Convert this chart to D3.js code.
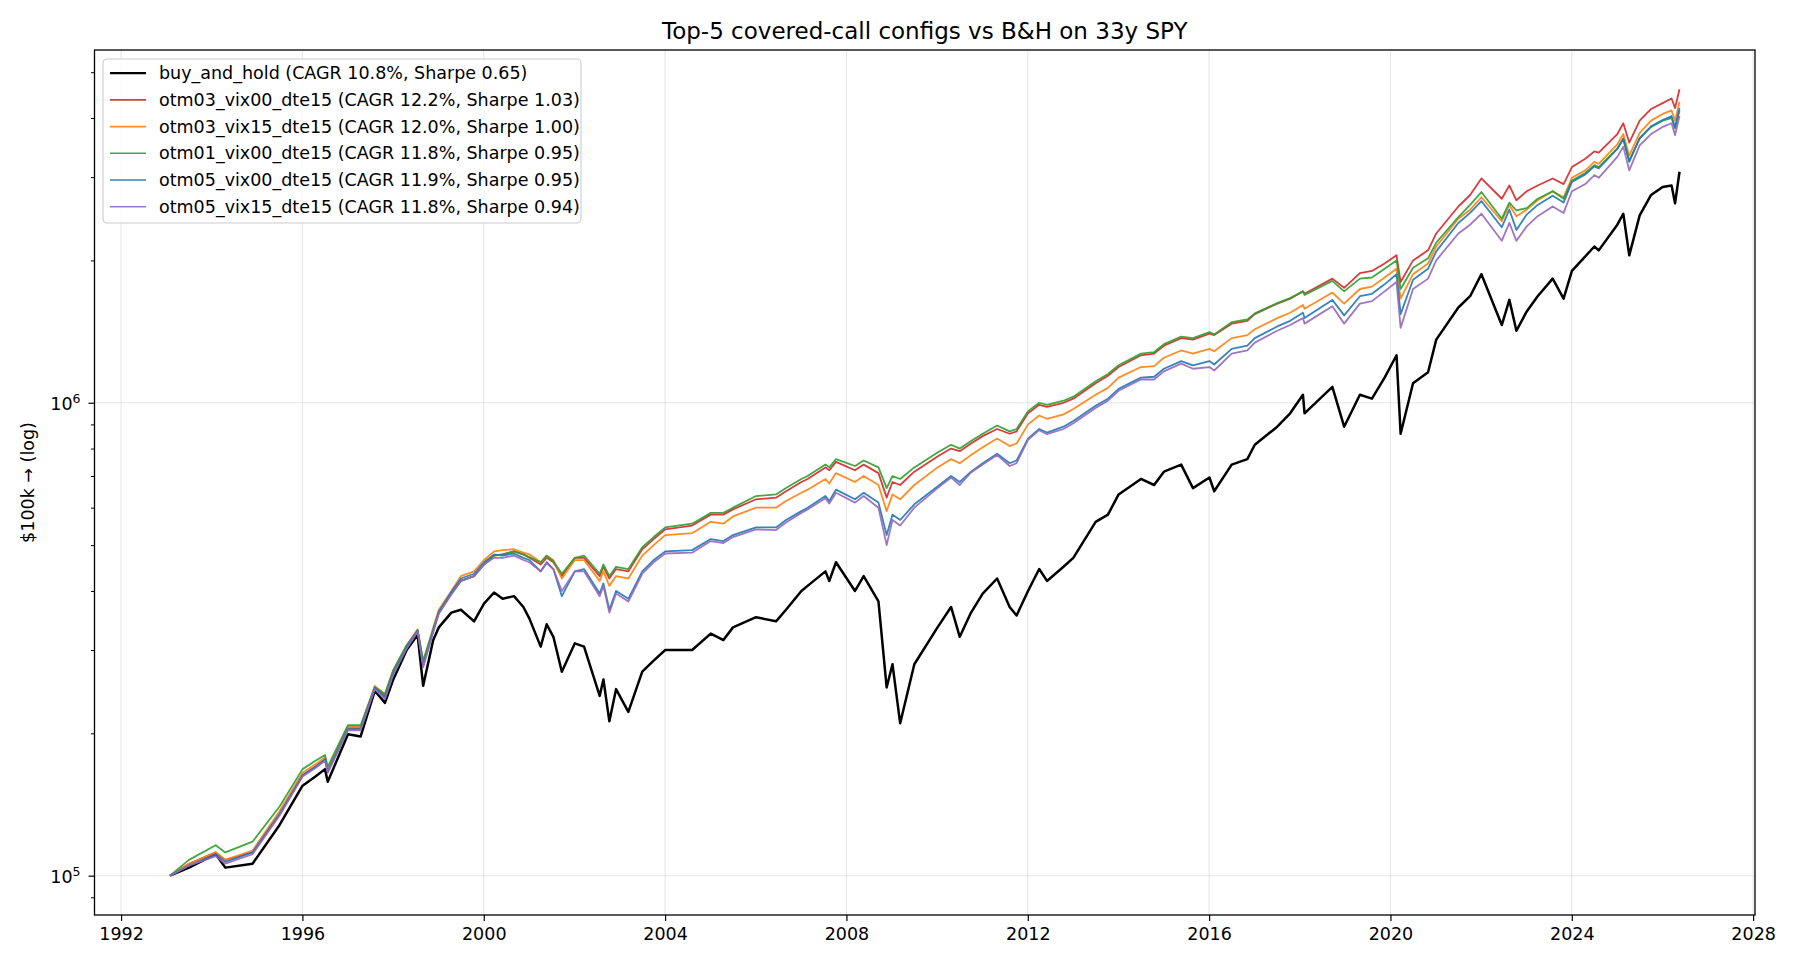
<!DOCTYPE html>
<html>
<head>
<meta charset="utf-8">
<script src="https://cdn.jsdelivr.net/npm/d3@7"></script>
<style>
  body { margin: 0; background: #fff; }
  svg text { font-family: "DejaVu Sans", sans-serif; fill: #000; }
</style>
</head>
<body>
<svg id="chart" width="1800" height="969"></svg>
<script>
// dates shared by every series (turning points)
var dates = [
  "1993-01-29","1993-07-01","1994-02-01","1994-04-20","1994-11-25","1995-07-01","1996-01-02","1996-04-15",
  "1996-07-01","1996-07-23","1997-01-02","1997-04-14","1997-08-06","1997-10-27","1998-01-02","1998-04-20",
  "1998-07-17","1998-08-31","1998-11-20","1999-01-04","1999-04-15","1999-07-01","1999-10-15","2000-01-03",
  "2000-03-24","2000-06-01","2000-09-01","2000-11-15","2001-01-02","2001-04-04","2001-05-22","2001-07-15",
  "2001-09-21","2002-01-04","2002-03-19","2002-07-23","2002-08-22","2002-10-09","2002-12-02","2003-03-11",
  "2003-07-01","2003-10-01","2004-01-02","2004-08-06","2005-01-03","2005-04-15","2005-07-01","2006-01-03",
  "2006-06-13","2006-09-01","2007-01-03","2007-02-22","2007-07-16","2007-08-16","2007-10-09","2008-03-10",
  "2008-05-19","2008-09-15","2008-11-20","2009-01-06","2009-03-09","2009-07-01","2010-01-04","2010-04-23",
  "2010-07-02","2010-10-01","2011-01-03","2011-04-29","2011-08-08","2011-10-03","2012-01-03","2012-04-02",
  "2012-06-04","2012-10-15","2013-01-02","2013-07-01","2013-10-08","2014-01-02","2014-07-01","2014-10-15",
  "2015-01-02","2015-05-21","2015-08-24","2016-01-04","2016-02-11","2016-07-01","2016-11-04","2017-01-03",
  "2017-07-03","2017-10-15","2018-01-26","2018-02-08","2018-09-20","2018-12-24","2019-04-30","2019-08-05",
  "2019-11-15","2020-02-19","2020-03-23","2020-07-01","2020-10-30","2021-01-04","2021-07-01","2021-10-04",
  "2022-01-03","2022-06-16","2022-08-16","2022-10-12","2023-01-03","2023-04-01","2023-07-31","2023-10-27",
  "2024-01-02","2024-04-19","2024-07-01","2024-08-05","2025-01-02","2025-02-19","2025-04-08","2025-07-01",
  "2025-10-01","2026-01-02","2026-03-15","2026-04-12","2026-05-18"
];

// portfolio value in $k
var buyAndHold = [
  100,104,111,104,106,128,155,162, 168,158,199,197,246,232,260,300,
  323,252,315,335,360,365,345,376, 397,385,390,370,350,305,340,320,
  270,310,305,240,260,212,248,222, 270,285,300,300,325,315,335,352,
  345,365,400,410,440,420,460,400, 430,380,250,280,210,280,335,370,
  320,360,395,425,370,355,400,445, 420,450,470,560,580,640,690,670,
  715,740,660,695,650,740,760,815, 890,950,1040,950,1080,890,1040,1020,
  1130,1260,860,1100,1160,1360,1590,1680, 1870,1460,1650,1420,1560,1680,1830,1660,
  1900,2040,2140,2100,2380,2510,2050,2490, 2750,2860,2880,2640,3080
];
var otm03Vix00 = [
  100,106,112,108,112,135,163,170, 176,166,205,205,250,240,270,305,
  330,280,330,360,395,420,430,455, 475,478,485,478,470,455,470,460,
  430,470,470,430,450,425,445,440, 490,515,540,550,580,580,595,625,
  630,650,680,690,730,720,750,720, 740,710,630,680,670,715,770,800,
  790,820,850,880,860,870,950,990, 980,1000,1020,1100,1140,1190,1260,1270,
  1320,1370,1360,1400,1390,1470,1490,1540, 1620,1660,1720,1700,1830,1750,1880,1900,
  1970,2050,1800,2000,2100,2280,2600,2750, 2980,2700,2880,2680,2800,2880,2980,2900,
  3150,3280,3400,3380,3700,3900,3550,3950, 4180,4300,4400,4200,4600
];
var otm03Vix15 = [
  100,106,112,108,113,137,165,172, 178,168,207,207,252,242,272,307,
  332,282,335,365,400,430,440,465, 485,488,490,482,478,460,475,465,
  425,465,465,420,440,410,430,425, 475,500,525,530,560,555,575,600,
  600,620,645,655,690,675,710,680, 700,670,590,640,625,670,730,760,
  745,775,805,840,810,820,900,940, 925,945,970,1040,1075,1130,1190,1195,
  1245,1290,1270,1300,1285,1370,1390,1430, 1510,1550,1610,1580,1710,1620,1740,1760,
  1840,1920,1660,1870,1970,2140,2450,2560, 2720,2420,2620,2480,2560,2680,2800,2720,
  2990,3100,3230,3200,3520,3700,3330,3720, 3950,4080,4150,3950,4330
];
var otm01Vix00 = [
  100,108,116,112,118,140,168,175, 180,170,208,208,250,242,272,307,
  330,285,332,360,395,420,430,455, 475,478,485,478,472,460,475,462,
  435,470,475,435,455,430,450,445, 495,520,545,555,585,585,600,635,
  640,660,690,700,740,730,760,735, 755,730,660,700,690,730,785,815,
  800,830,860,895,870,880,960,1000, 990,1010,1030,1110,1150,1200,1270,1280,
  1330,1380,1370,1410,1395,1480,1500,1545, 1625,1665,1720,1690,1810,1720,1830,1840,
  1920,2000,1740,1930,2020,2180,2470,2620, 2790,2450,2650,2550,2580,2700,2800,2700,
  2950,3060,3180,3150,3450,3620,3250,3620, 3830,3950,4000,3800,4150
];
var otm05Vix00 = [
  100,105,111,107,112,135,163,170, 176,166,204,204,250,238,268,304,
  330,278,330,362,398,425,435,460, 478,475,480,470,465,440,460,445,
  390,440,445,395,415,365,400,385, 440,465,485,488,515,510,525,545,
  545,565,590,600,635,620,655,625, 645,615,525,580,565,610,665,700,
  680,715,745,780,745,755,840,880, 865,890,915,985,1020,1070,1130,1135,
  1180,1225,1200,1225,1205,1300,1320,1370, 1450,1490,1550,1510,1650,1530,1680,1700,
  1780,1870,1540,1820,1920,2090,2400,2520, 2670,2350,2560,2320,2500,2620,2740,2650,
  2930,3040,3160,3130,3440,3610,3230,3630, 3840,3960,4040,3820,4200
];
var otm05Vix15 = [
  100,105,110,106,111,134,162,169, 175,165,203,203,248,236,266,302,
  328,276,327,358,393,420,430,455, 470,470,475,465,460,440,458,445,
  400,440,440,390,410,360,395,380, 435,460,480,482,510,505,520,540,
  538,558,585,595,628,612,645,615, 635,600,500,565,550,600,660,695,
  670,712,740,775,735,745,835,875, 858,880,905,975,1010,1060,1120,1120,
  1165,1210,1180,1190,1170,1270,1290,1340, 1420,1460,1510,1470,1600,1470,1620,1640,
  1720,1800,1440,1740,1830,2000,2280,2380, 2510,2200,2400,2200,2360,2480,2600,2520,
  2800,2900,3030,2990,3310,3480,3100,3500, 3700,3830,3900,3680,4040
];

var seriesNames = [
  "buy_and_hold (CAGR 10.8%, Sharpe 0.65)",
  "otm03_vix00_dte15 (CAGR 12.2%, Sharpe 1.03)",
  "otm03_vix15_dte15 (CAGR 12.0%, Sharpe 1.00)",
  "otm01_vix00_dte15 (CAGR 11.8%, Sharpe 0.95)",
  "otm05_vix00_dte15 (CAGR 11.9%, Sharpe 0.95)",
  "otm05_vix15_dte15 (CAGR 11.8%, Sharpe 0.94)"
];
var seriesValues = [buyAndHold, otm03Vix00, otm03Vix15, otm01Vix00, otm05Vix00, otm05Vix15];
var seriesColors = ["#000000", "#d62728", "#ff7f0e", "#2ca02c", "#1f77b4", "#9467bd"];
var xTickYears = [1992, 1996, 2000, 2004, 2008, 2012, 2016, 2020, 2024, 2028];

var svg = d3.select("#chart");
var margin = {left: 94.5, right: 45, top: 50, bottom: 54};
var W = 1800, H = 969;
var parse = d3.timeParse("%Y-%m-%d");
var dateObjs = dates.map(parse);

// matplotlib style 5% margins
var t0 = dateObjs[0].getTime(), t1 = dateObjs[dateObjs.length - 1].getTime();
var tpad = (t1 - t0) * 0.05;
var x = d3.scaleTime()
  .domain([new Date(t0 - tpad), new Date(t1 + tpad)])
  .range([margin.left, W - margin.right]);

var allVals = d3.merge(seriesValues).map(function(v){ return v * 1000; });
var lmin = Math.log10(d3.min(allVals)), lmax = Math.log10(d3.max(allVals));
var lpad = (lmax - lmin) * 0.05;
var y = d3.scaleLog()
  .domain([Math.pow(10, lmin - lpad), Math.pow(10, lmax + lpad)])
  .range([H - margin.bottom, margin.top]);

var plotL = margin.left, plotR = W - margin.right, plotT = margin.top, plotB = H - margin.bottom;

// grid
var grid = svg.append("g");
xTickYears.forEach(function(yr){
  var xx = x(new Date(yr, 0, 1));
  grid.append("line").attr("x1", xx).attr("x2", xx).attr("y1", plotT).attr("y2", plotB)
    .attr("stroke", "#b0b0b0").attr("stroke-opacity", 0.3).attr("stroke-width", 1.1);
});
[1e5, 1e6].forEach(function(v){
  grid.append("line").attr("x1", plotL).attr("x2", plotR).attr("y1", y(v)).attr("y2", y(v))
    .attr("stroke", "#b0b0b0").attr("stroke-opacity", 0.3).attr("stroke-width", 1.1);
});

// lines
var line = d3.line()
  .x(function(d){ return x(d[0]); })
  .y(function(d){ return y(d[1] * 1000); });

var lines = svg.append("g");
seriesValues.forEach(function(vals, i){
  var pts = vals.map(function(v, j){ return [dateObjs[j], v]; });
  lines.append("path")
    .datum(pts)
    .attr("fill", "none")
    .attr("stroke", seriesColors[i])
    .attr("stroke-width", i === 0 ? 2.5 : 1.8)
    .attr("stroke-opacity", i === 0 ? 1 : 0.9)
    .attr("stroke-linejoin", "round")
    .attr("d", line);
});

// x axis
var xAxis = d3.axisBottom(x)
  .tickValues(xTickYears.map(function(yr){ return new Date(yr, 0, 1); }))
  .tickFormat(d3.timeFormat("%Y"))
  .tickSize(6).tickPadding(7);
var gx = svg.append("g").attr("transform", "translate(0," + plotB + ")").call(xAxis);
gx.select(".domain").remove();
gx.selectAll("line").attr("stroke", "#000").attr("stroke-width", 1.2);
gx.selectAll("text").attr("font-size", 17.5).attr("font-family", "DejaVu Sans");

// y axis: majors with superscript labels, minors without
var yMinor = [];
[1e4, 1e5, 1e6].forEach(function(dec){
  for (var k = 2; k <= 9; k++) {
    var v = dec * k;
    if (v >= y.domain()[0] && v <= y.domain()[1]) yMinor.push(v);
  }
});
var gyMinor = svg.append("g").attr("transform", "translate(" + plotL + ",0)")
  .call(d3.axisLeft(y).tickValues(yMinor).tickFormat("").tickSize(3.5));
gyMinor.select(".domain").remove();
gyMinor.selectAll("line").attr("stroke", "#000").attr("stroke-width", 1);

var gy = svg.append("g").attr("transform", "translate(" + plotL + ",0)")
  .call(d3.axisLeft(y).tickValues([1e5, 1e6]).tickFormat("").tickSize(6));
gy.select(".domain").remove();
gy.selectAll("line").attr("stroke", "#000").attr("stroke-width", 1.2);
[1e5, 1e6].forEach(function(v){
  var t = svg.append("text")
    .attr("x", plotL - 14).attr("y", y(v) + 7)
    .attr("text-anchor", "end").attr("font-size", 17.5);
  t.append("tspan").text("10");
  t.append("tspan").attr("dy", -7).attr("font-size", 12.5).text(Math.round(Math.log10(v)));
});

// frame
svg.append("rect")
  .attr("x", plotL).attr("y", plotT).attr("width", plotR - plotL).attr("height", plotB - plotT)
  .attr("fill", "none").attr("stroke", "#000").attr("stroke-width", 1.3);

// title and label
svg.append("text")
  .attr("x", (plotL + plotR) / 2).attr("y", 39)
  .attr("text-anchor", "middle").attr("font-size", 23)
  .text("Top-5 covered-call configs vs B&H on 33y SPY");

svg.append("text")
  .attr("transform", "translate(34," + ((plotT + plotB) / 2) + ") rotate(-90)")
  .attr("text-anchor", "middle").attr("font-size", 17.5)
  .text("$100k \u2192 (log)");

// legend
var lg = svg.append("g").attr("transform", "translate(103,59)");
lg.append("rect")
  .attr("width", 478).attr("height", 164).attr("rx", 4)
  .attr("fill", "#fff").attr("fill-opacity", 0.8)
  .attr("stroke", "#cccccc").attr("stroke-width", 1.1);
seriesNames.forEach(function(name, i){
  var cy = 14.2 + i * 26.7;
  lg.append("line").attr("x1", 7).attr("x2", 43).attr("y1", cy).attr("y2", cy)
    .attr("stroke", seriesColors[i]).attr("stroke-width", i === 0 ? 2.3 : 1.6)
    .attr("stroke-opacity", i === 0 ? 1 : 0.9);
  lg.append("text").attr("x", 56).attr("y", cy + 6).attr("font-size", 17.5).text(name);
});
</script>
</body>
</html>
